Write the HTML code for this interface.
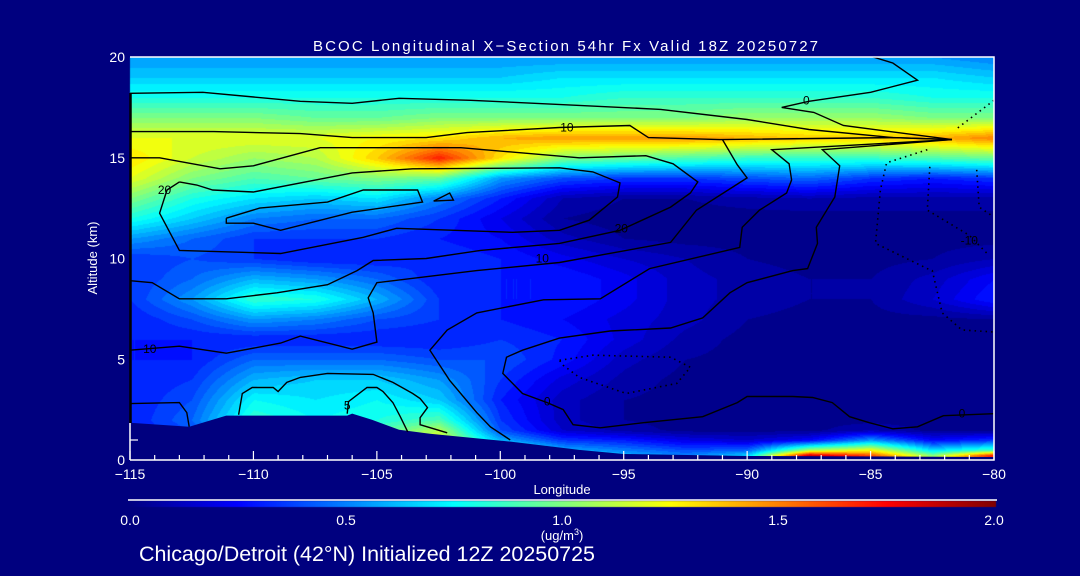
<!DOCTYPE html>
<html><head><meta charset="utf-8">
<style>
html,body{margin:0;padding:0;background:#00007f;}
#wrap{position:relative;width:1080px;height:576px;overflow:hidden;background:#00007f;}
canvas{position:absolute;left:0;top:0;}
svg{position:absolute;left:0;top:0;}
text{font-family:"Liberation Sans",sans-serif;fill:#fff;}
</style></head>
<body>
<div id="wrap">
<canvas id="field" width="1080" height="576"></canvas>
<svg id="svg" width="1080" height="576"></svg>
</div>
<script>
// ---- data ----
const lons = [-115,-112.5,-110,-107.5,-105,-102.5,-100,-97.5,-95,-92.5,-90,-87.5,-85,-82.5,-80];
const alts = [0,0.25,0.5,1,1.5,2,3,4,5,6,7,8,9,10,11,12,13,14,15,16,17,18,19,20];
const conc = [
[0.3,0.4,0.8,0.8,0.9,1.2,1.0,0.8,0.6,0.5,0.7,1.9,1.7,1.2,1.8],
[0.3,0.4,0.8,0.8,0.9,1.2,1.0,0.7,0.6,0.5,0.65,1.85,1.6,1.0,1.7],
[0.3,0.4,0.8,0.8,0.9,1.2,0.9,0.6,0.5,0.4,0.45,1.1,1.25,0.7,0.9],
[0.3,0.4,0.8,0.8,0.9,1.2,0.6,0.35,0.3,0.2,0.15,0.25,0.55,0.25,0.35],
[0.3,0.4,0.8,0.8,0.9,1.1,0.4,0.15,0.08,0.03,0.03,0.03,0.1,0.03,0.03],
[0.3,0.45,0.85,0.75,0.8,0.9,0.35,0.12,0.05,0.03,0.03,0.03,0.03,0.03,0.03],
[0.3,0.4,0.75,0.7,0.75,0.65,0.3,0.12,0.05,0.03,0.03,0.03,0.03,0.03,0.03],
[0.3,0.35,0.6,0.65,0.65,0.55,0.35,0.18,0.08,0.03,0.03,0.03,0.03,0.03,0.03],
[0.3,0.3,0.45,0.45,0.45,0.4,0.4,0.28,0.12,0.05,0.03,0.03,0.03,0.03,0.03],
[0.3,0.3,0.3,0.3,0.3,0.3,0.35,0.3,0.18,0.08,0.03,0.03,0.03,0.03,0.03],
[0.3,0.4,0.55,0.5,0.4,0.35,0.3,0.25,0.18,0.12,0.05,0.03,0.03,0.03,0.05],
[0.35,0.55,0.85,0.8,0.6,0.35,0.3,0.3,0.22,0.12,0.08,0.05,0.05,0.15,0.3],
[0.35,0.45,0.6,0.55,0.45,0.3,0.3,0.3,0.22,0.12,0.08,0.05,0.05,0.12,0.25],
[0.35,0.4,0.35,0.3,0.3,0.35,0.3,0.22,0.15,0.1,0.05,0.03,0.03,0.05,0.1],
[0.55,0.45,0.35,0.35,0.35,0.3,0.25,0.12,0.05,0.03,0.03,0.03,0.03,0.03,0.03],
[0.8,0.65,0.5,0.45,0.45,0.35,0.2,0.05,0.02,0.02,0.02,0.02,0.03,0.03,0.03],
[1.0,0.8,0.7,0.65,0.7,0.5,0.3,0.1,0.05,0.05,0.08,0.1,0.08,0.08,0.08],
[1.2,1.0,0.9,0.95,1.0,0.95,0.55,0.4,0.35,0.35,0.4,0.45,0.35,0.3,0.35],
[1.3,1.15,1.05,1.1,1.35,1.7,1.3,1.0,0.95,0.9,0.85,0.85,0.85,0.9,0.95],
[1.2,1.2,1.2,1.2,1.25,1.3,1.4,1.45,1.45,1.45,1.4,1.35,1.35,1.4,1.5],
[1.0,1.0,1.0,0.95,0.95,1.0,1.0,1.0,1.0,1.0,1.05,1.05,1.05,1.0,1.0],
[0.8,0.8,0.8,0.8,0.8,0.8,0.8,0.8,0.85,0.85,0.85,0.85,0.85,0.8,0.8],
[0.65,0.65,0.65,0.65,0.65,0.65,0.65,0.7,0.7,0.7,0.7,0.7,0.7,0.7,0.65],
[0.55,0.55,0.55,0.55,0.55,0.55,0.55,0.55,0.55,0.55,0.55,0.55,0.55,0.55,0.5]
];
const terrain = [[-115,1.85],[-112.6,1.65],[-111.1,2.2],[-110,2.2],[-106.2,2.2],[-106,2.3],[-105.2,2.0],[-104.1,1.5],[-102.85,1.3],[-99.5,0.9],[-96.8,0.5],[-95,0.3],[-90,0.2],[-80,0.15],[-80,0],[-115,0]];
const xTicks = [-115,-110,-105,-100,-95,-90,-85,-80];
const yTicks = [0,5,10,15,20];
const cbTicks = [0.0,0.5,1.0,1.5,2.0];
const contours = [
 {dash:false,pts:[[-115,18.2],[-112.05,18.25],[-108.1,17.8],[-106,17.7],[-104.1,17.95],[-101.2,17.85],[-96.8,17.6],[-93.5,17.4],[-90,16.9],[-87.5,16.4],[-84.1,16.0],[-81.7,15.9]]},
 {dash:false,pts:[[-84.9,20],[-84.1,19.7],[-83.1,18.85],[-85,18.25],[-87.5,17.8],[-88.6,17.5],[-87.3,17.25],[-86.1,16.6],[-81.7,15.9]]},
 {dash:false,pts:[[-115,16.3],[-111.6,16.3],[-108.1,16.2],[-106,16.0],[-103,16.0],[-101.35,16.25],[-97.6,16.5],[-94.75,16.6],[-94,16.0],[-91.1,15.9],[-84.1,16.0],[-81.7,15.9]]},
 {dash:false,pts:[[-115,15],[-113.8,15],[-111.35,14.45],[-110,14.6],[-107.3,15.5],[-101.6,15.5],[-96.8,15.0],[-94.1,15.1],[-93,14.7],[-92,13.8],[-92.3,13.25],[-93.1,12.55],[-95.15,11.4],[-97.6,10.75],[-100.8,10.4],[-103,10.0],[-105.15,9.9],[-105.8,9.4],[-107,8.7],[-109.05,8.3],[-111.1,8.0],[-113,8.0],[-114.1,8.8],[-115,8.9]]},
 {dash:false,pts:[[-113,13.8],[-112.3,13.65],[-111.65,13.4],[-110,13.3],[-106,14.25],[-103.55,14.45],[-97.6,14.5],[-96.25,14.3],[-95.15,13.75],[-95.25,13.05],[-96.4,11.9],[-97.6,11.4],[-99.5,11.3],[-104.2,11.5],[-105.55,11.05],[-108.9,10.25],[-113,10.4],[-113.8,12.25],[-113.5,13.4],[-113,13.8]]},
 {dash:false,pts:[[-111.1,12.0],[-109.75,12.5],[-107,12.8],[-105.55,13.4],[-103.35,13.4],[-103.15,12.8],[-106,12.3],[-108.9,11.4],[-110,11.75],[-111.1,11.75],[-111.1,12.0]]},
 {dash:false,pts:[[-102.7,12.85],[-102.05,13.25],[-101.9,12.9],[-102.7,12.85]]},
 {dash:false,pts:[[-115,5.45],[-113,5.65],[-111.1,5.3],[-108.9,5.8],[-108.1,6.15],[-106,5.5],[-105,5.85],[-105.15,7.3],[-105.35,8.05],[-105,8.8],[-100.95,9.4],[-97.6,9.8],[-93.1,10.8],[-92.05,12.4],[-90,14.0],[-90.4,14.65],[-91,15.9]]},
 {dash:false,pts:[[-81.7,15.9],[-89,15.4],[-88.3,14.7],[-88.2,13.9],[-88.4,13.25],[-89.5,12.4],[-90.2,11.55],[-90.3,10.55],[-93.95,9.5],[-95.95,8.0],[-98.25,7.95],[-100.95,7.3],[-102.15,6.45],[-102.85,5.45],[-102.05,3.95],[-100.95,2.35],[-100.4,1.65],[-99.6,1.0]]},
 {dash:false,pts:[[-81.7,15.9],[-86.95,15.4],[-86.25,14.6],[-86.45,13.05],[-87.2,11.55],[-87.15,10.75],[-87.55,9.5],[-88.15,9.4],[-90,8.8],[-90.7,8.3],[-91.8,7.05],[-93.1,6.55],[-95.55,6.4],[-97.6,6.05],[-99.1,5.45],[-99.75,5.1],[-99.9,4.3],[-99.1,3.3],[-98.1,2.85],[-97.45,2.5],[-97.05,1.75],[-95.95,1.6],[-94.2,1.85],[-91.8,2.15],[-90.4,2.85],[-90,3.15],[-88.15,3.15],[-87.35,3.1],[-86.55,2.85],[-85.85,2.15],[-85.05,1.85],[-84.1,1.55],[-83.1,1.65],[-82.05,2.2],[-80,2.3]]},
 {dash:false,pts:[[-115,2.8],[-113,2.85],[-112.7,2.35],[-112.6,1.65]]},
 {dash:false,pts:[[-110.6,2.25],[-110.45,3.3],[-110.05,3.6],[-109.2,3.6],[-109,3.4],[-108.65,3.85],[-108.1,4.1],[-107,4.3],[-105.15,4.25],[-104.35,3.85],[-103.55,3.3],[-103.25,3.05],[-102.95,2.6],[-103.25,2.1],[-103.25,1.75],[-102.15,1.35]]},
 {dash:false,pts:[[-106.2,2.3],[-106.15,2.9],[-105.4,3.6],[-105,3.6],[-104.75,3.4],[-104.35,2.85],[-104.05,2.15],[-103.75,1.4]]},
 {dash:true,pts:[[-80,17.85],[-81.5,16.45]]},
 {dash:true,pts:[[-82.7,15.4],[-84.35,14.75],[-84.6,13.4],[-84.8,10.75],[-82.7,9.5],[-82.5,9.4],[-82.1,7.3],[-81.3,6.45],[-80,6.35]]},
 {dash:true,pts:[[-82.6,14.55],[-82.7,12.4],[-81,11.15],[-80.2,10.15]]},
 {dash:true,pts:[[-80.7,14.4],[-80.6,12.55],[-80,12.05]]},
 {dash:true,pts:[[-97.6,4.95],[-96.25,5.2],[-93.1,5.1],[-92.3,4.6],[-92.85,3.8],[-94.9,3.3],[-96.8,4.1],[-97.45,4.7],[-97.6,4.95]]}
];
const contourLabels = [["10",-98.3,10.0],["10",-97.3,16.5],["20",-95.1,11.5],["0",-87.6,17.85],["0",-98.1,2.9],["0",-81.3,2.3],["10",-114.2,5.5],["5",-106.2,2.7],["20",-113.6,13.4],["-10",-81.0,10.9]];

// ---- axes ----
const X0=130,X1=994,Y0=460,Y1=57;
const xs = lon => X0+(lon+115)/35*(X1-X0);
const ys = a => Y0-a/20*(Y0-Y1);
function jet(v){const t=Math.max(0,Math.min(1,v/2));const c=x=>Math.round(255*Math.max(0,Math.min(1,x)));
 return [c(1.5-Math.abs(4*t-3)),c(1.5-Math.abs(4*t-2)),c(1.5-Math.abs(4*t-1))];}
function sample(lon,a){
 let i=Math.min(lons.length-2,Math.max(0,Math.floor((lon+115)/2.5)));
 let fx=(lon-lons[i])/(lons[i+1]-lons[i]);fx=Math.max(0,Math.min(1,fx));
 let j=0;while(j<alts.length-2&&alts[j+1]<a)j++;
 let fy=(a-alts[j])/(alts[j+1]-alts[j]);fy=Math.max(0,Math.min(1,fy));
 const v00=conc[j][i],v01=conc[j][i+1],v10=conc[j+1][i],v11=conc[j+1][i+1];
 return (v00*(1-fx)+v01*fx)*(1-fy)+(v10*(1-fx)+v11*fx)*fy;}
const cv=document.getElementById('field');const ctx=cv.getContext('2d');
const img=ctx.createImageData(X1-X0,Y0-Y1);
for(let py=0;py<Y0-Y1;py++){const a=(Y0-(Y1+py))/(Y0-Y1)*20;
 for(let px=0;px<X1-X0;px++){const lon=-115+px/(X1-X0)*35;
  let v=sample(lon,a);v=Math.floor(v/0.05)*0.05+0.025;const c=jet(v);const k=(py*(X1-X0)+px)*4;
  img.data[k]=c[0];img.data[k+1]=c[1];img.data[k+2]=c[2];img.data[k+3]=255;}}
ctx.putImageData(img,X0,Y1);
// colorbar
for(let px=0;px<=867;px++){const c=jet(px/867*2);ctx.fillStyle=`rgb(${c[0]},${c[1]},${c[2]})`;ctx.fillRect(128+px,501,1,6);}

const NS='http://www.w3.org/2000/svg';const svg=document.getElementById('svg');
function mk(tag,attrs,parent){const e=document.createElementNS(NS,tag);for(const k in attrs)e.setAttribute(k,attrs[k]);(parent||svg).appendChild(e);return e;}
// terrain
const terr=mk('polygon',{points:terrain.map(p=>xs(p[0])+','+ys(p[1])).join(' '),fill:'#00007f'});


// contours
const cg=mk('g',{});


contours.forEach(c=>{const pl=mk('polyline',{points:c.pts.map(p=>xs(p[0]).toFixed(1)+','+ys(p[1]).toFixed(1)).join(' '),fill:'none',stroke:'#000','stroke-width':c.dash?1.6:1.4,'stroke-dasharray':c.dash?'1.5 4':'none'},cg);
 
 });
contourLabels.forEach(l=>{const t=mk('text',{x:xs(l[1]),y:ys(l[2])+4,'font-size':12,'text-anchor':'middle',style:'fill:#000'},cg);t.textContent=l[0];
 
 });
// frame
const fr=mk('path',{d:`M${X0},${Y1}H${X1}V${Y0}H${X0}M${X0},${Y0}V423`,fill:'none',stroke:'#fff','stroke-width':1.5});


const lb=mk('line',{x1:X0+0.5,y1:93,x2:X0+0.5,y2:423,stroke:'#000','stroke-width':2.5});


mk('line',{x1:X0,y1:440,x2:X0+8,y2:440,stroke:'#fff','stroke-width':1.2});
// x ticks
for(let l=-115;l<=-80;l++){const major=l%5===0;mk('line',{x1:xs(l),y1:Y0,x2:xs(l),y2:Y0-(major?9:5),stroke:'#fff','stroke-width':1.2});}
xTicks.forEach(l=>{const t=mk('text',{x:xs(l),y:Y0+19,'font-size':14,'text-anchor':'middle'});t.textContent=String(l).replace('-','\u2212');
 
 });
yTicks.forEach(a=>{const t=mk('text',{x:125,y:ys(a)+5,'font-size':14,'text-anchor':'end'});t.textContent=a;
 
 });
// colorbar
const cbl=mk('line',{x1:128,y1:500,x2:997,y2:500,stroke:'#fff','stroke-width':1.5});


cbTicks.forEach(v=>{const t=mk('text',{x:130+v/2*864,y:525,'font-size':14,'text-anchor':'middle'});t.textContent=v.toFixed(1);
 
 });
</script>
<script>
(function(){const NS='http://www.w3.org/2000/svg';const svg=document.getElementById('svg');
function tx(s,a,name){const t=document.createElementNS(NS,'text');for(const k in a)t.setAttribute(k,a[k]);t.textContent=s;svg.appendChild(t);
 
 return t;}
tx('BCOC Longitudinal X\u2212Section 54hr  Fx Valid 18Z 20250727',{x:313,y:51,'font-size':15,textLength:505,lengthAdjust:'spacing','xml:space':'preserve'},'chart-title');
tx('Longitude',{x:562,y:494,'font-size':13,'text-anchor':'middle'},'x-axis-title');
tx('Altitude (km)',{x:97,y:258,'font-size':13,'text-anchor':'middle',transform:'rotate(-90 97 258)'},'y-axis-title');
const u=tx('(ug/m',{x:562,y:540,'font-size':13,'text-anchor':'middle'},'colorbar-units');
const s=document.createElementNS(NS,'tspan');s.setAttribute('dy','-5');s.setAttribute('font-size','9');s.textContent='3';u.appendChild(s);
const s2=document.createElementNS(NS,'tspan');s2.setAttribute('dy','5');s2.textContent=')';u.appendChild(s2);
tx('Chicago/Detroit (42\u00B0N) Initialized 12Z 20250725',{x:139,y:561,'font-size':21,textLength:456,lengthAdjust:'spacingAndGlyphs'},'footer-caption');
})();
</script>
</body></html>
